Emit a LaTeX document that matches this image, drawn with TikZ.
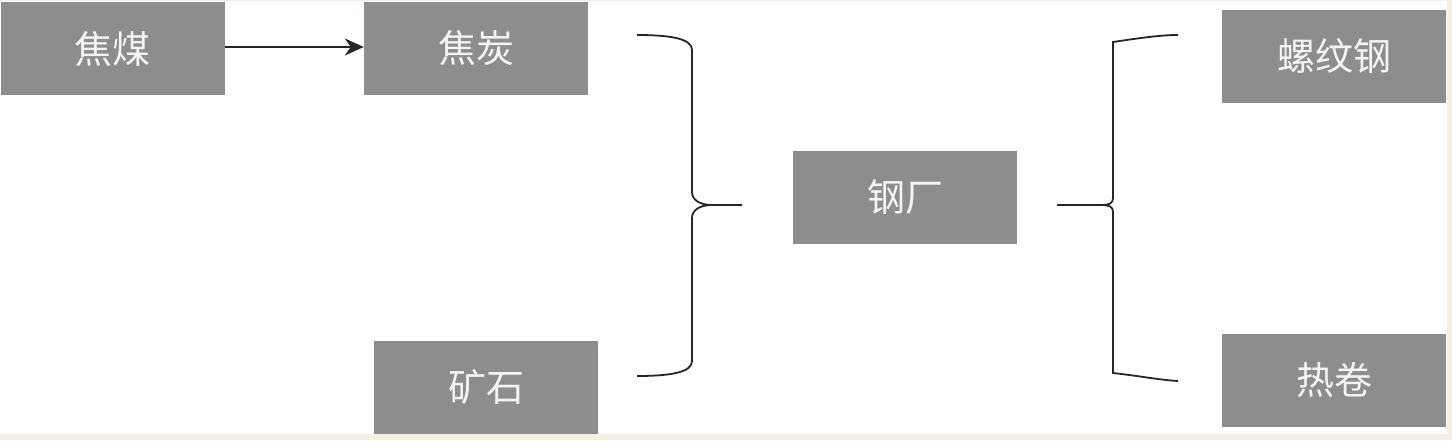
\documentclass[tikz,border=0pt]{standalone}
\usepackage{fontspec}
\newfontfamily\cjk{Noto Sans CJK SC}
\usetikzlibrary{arrows.meta}
\definecolor{boxgray}{HTML}{8E8C8D}
\definecolor{cream}{HTML}{F4EFDF}
\definecolor{txtwhite}{HTML}{F4F4F4}
\tikzset{
  gbox/.style={fill=boxgray, draw=none, minimum width=224pt, minimum height=93pt, inner sep=0pt,
    text=txtwhite, font=\cjk\fontsize{38pt}{44pt}\selectfont},
  conn/.style={line width=1.8pt, black!85},
}
\begin{document}
\begin{tikzpicture}[x=1pt,y=-1pt]
\useasboundingbox (0,0) rectangle (1452,440);
\fill[cream] (0,0) rectangle (1452,440);
\fill[white] (0,1) rectangle (1447,434);
\node[gbox] (jiaomei) at (112.5,48.5) {焦煤};
\node[gbox] (jiaotan) at (476,48.5) {焦炭};
\node[gbox] (kuangshi) at (486,387) {矿石};
\node[gbox] (gangchang) at (905,197.5) {钢厂};
\node[gbox] (luowen) at (1334,56.5) {螺纹钢};
\node[gbox] (rejuan) at (1334,380.5) {热卷};
\draw[line width=1.8pt, black!85, -{Stealth[length=19pt,width=17pt,inset=6pt]}] (jiaomei.east |- 0,47) -- (jiaotan.west |- 0,47);
% left brace
\coordinate (lbt) at (637,35);
\coordinate (lbb) at (637,376);
\coordinate (lcusp) at (712,205);
\coordinate (ltip) at (742,205);
\draw[conn] (lbt) .. controls (672,35) and (692,39) .. (692,50) -- (692,192)
  .. controls (692,200) and (700,205) .. (lcusp) -- (ltip);
\draw[conn] (lcusp) .. controls (700,205) and (692,210) .. (692,218) -- (692,361)
  .. controls (692,372) and (672,376) .. (lbb);
% right brace
\coordinate (rtip) at (1057,205);
\coordinate (rcusp) at (1100,205);
\coordinate (rbt) at (1178,35);
\coordinate (rbb) at (1178,381);
\draw[conn] (rtip) -- (rcusp) .. controls (1110,205) and (1113,203) .. (1113,198) -- (1113,42)
  .. controls (1140,38) and (1160,35) .. (rbt);
\draw[conn] (rcusp) .. controls (1110,205) and (1113,207) .. (1113,212) -- (1113,373)
  .. controls (1140,376) and (1160,380) .. (rbb);
\end{tikzpicture}
\end{document}
